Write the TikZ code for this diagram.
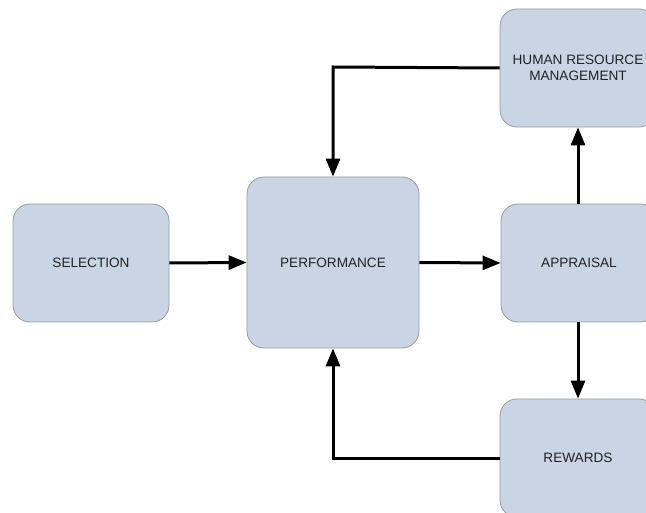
\documentclass[tikz,border=0pt]{standalone}
\usepackage{fontspec}
\setmainfont{Liberation Sans}
\usetikzlibrary{arrows.meta}
\definecolor{boxfill}{HTML}{C9D5E5}
\definecolor{boxline}{HTML}{9A9A9A}
\definecolor{labeltext}{HTML}{222222}
\tikzset{
  stagebox/.style={draw=boxline, line width=0.8pt, fill=boxfill, rounded corners=17pt,
    inner sep=0pt, align=center, text=labeltext,
    font=\fontsize{13.6}{15.5}\selectfont},
  flow/.style={line width=3pt, -{Triangle[width=14pt,length=18pt]}}
}
\begin{document}
\begin{tikzpicture}[x=1pt,y=-1pt]
\useasboundingbox (0,0) rectangle (646,513);
\clip (0,0) rectangle (646,513);
\node[stagebox, minimum width=156pt, minimum height=118pt] (sel) at (91,263) {SELECTION};
\node[stagebox, minimum width=172pt, minimum height=171pt] (perf) at (333,262.5) {PERFORMANCE};
\node[stagebox, minimum width=156pt, minimum height=118pt] (appr) at (579,263) {APPRAISAL};
\node[stagebox, minimum width=156pt, minimum height=118pt] (hrm) at (578,68) {HUMAN RESOURCE\\MANAGEMENT};
\node[stagebox, minimum width=156pt, minimum height=118pt] (rew) at (578,458) {REWARDS};
\coordinate (topbend) at (333,67);
\coordinate (botbend) at (333,458);
\draw[flow] (sel.east) -- (perf.west);
\draw[flow] (perf.east) -- (appr.west);
\draw[flow] (appr.north -| hrm.south) -- (hrm.south);
\draw[flow] (appr.south -| rew.north) -- (rew.north);
\draw[flow] (hrm.west) -- (topbend) -- (perf.north);
\draw[flow] (rew.west) -- (botbend) -- (perf.south);
\end{tikzpicture}
\end{document}
